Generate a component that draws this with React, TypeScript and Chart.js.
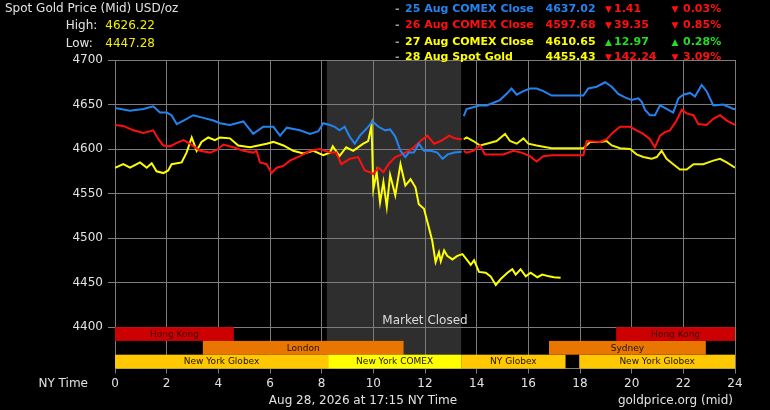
import React, { useEffect, useRef } from 'react';
import { Chart, registerables } from 'chart.js';

Chart.register(...registerables);

// --- data (hours in NY time, USD/oz) ---
const xTicks = [0, 2, 4, 6, 8, 10, 12, 14, 16, 18, 20, 22, 24];
const yTicks = [4400, 4450, 4500, 4550, 4600, 4650, 4700];

// 25 Aug COMEX close line (two pieces, split at the COMEX close)
const blueHoursA = [0, 0.58, 1.1, 1.48, 1.74, 2, 2.19, 2.39, 2.65, 3.03, 3.42, 3.81, 4.06, 4.45, 4.97, 5.35, 5.74, 6.13, 6.39, 6.65, 7.16, 7.55, 7.87, 8.06, 8.32, 8.5, 8.69, 8.89, 9.08, 9.28, 9.48, 9.74, 9.97, 10.2, 10.46, 10.65, 10.85, 11.05, 11.24, 11.37, 11.57, 11.76, 11.96, 12.22, 12.48, 12.68, 12.88, 13.14, 13.42];
const bluePricesA = [4646, 4643, 4645, 4648, 4641, 4641, 4638, 4628, 4632, 4638, 4635, 4632, 4629, 4627, 4631, 4617, 4625, 4625, 4615, 4624, 4621, 4617, 4620, 4629, 4627, 4625, 4621, 4625, 4614, 4606, 4615, 4623, 4631, 4625, 4621, 4622, 4614, 4598, 4591, 4596, 4596, 4606, 4598, 4598, 4596, 4589, 4594, 4596, 4597];
const blueHoursB = [13.5, 13.61, 13.87, 14.13, 14.39, 14.65, 14.9, 15.16, 15.35, 15.55, 15.81, 16.06, 16.32, 16.58, 16.9, 18.13, 18.32, 18.65, 18.97, 19.23, 19.48, 19.74, 20, 20.26, 20.39, 20.52, 20.71, 20.9, 21.1, 21.35, 21.61, 21.81, 22, 22.26, 22.45, 22.71, 22.9, 23.16, 23.55, 23.94, 24];
const bluePricesB = [4637, 4645, 4647, 4649, 4649, 4652, 4655, 4662, 4668, 4661, 4665, 4668, 4668, 4665, 4660, 4660, 4668, 4670, 4675, 4670, 4662, 4658, 4655, 4657, 4653, 4644, 4638, 4638, 4649, 4645, 4641, 4657, 4661, 4663, 4659, 4672, 4665, 4649, 4650, 4645, 4645];

// 26 Aug COMEX close line
const redHoursA = [0, 0.32, 0.71, 1.1, 1.48, 1.68, 1.87, 2.13, 2.39, 2.65, 2.9, 3.29, 3.68, 3.94, 4.19, 4.58, 4.97, 5.35, 5.48, 5.61, 5.87, 6.06, 6.26, 6.52, 6.77, 7.16, 7.55, 7.94, 8.32, 8.56, 8.76, 9.08, 9.41, 9.67, 9.87, 10, 10.2, 10.39, 10.59, 10.85, 11.11, 11.37, 11.57, 11.83, 12.09, 12.35, 12.61, 12.94, 13.14, 13.42];
const redPricesA = [4627, 4626, 4621, 4618, 4621, 4611, 4604, 4603, 4607, 4610, 4606, 4598, 4596, 4599, 4605, 4602, 4598, 4596, 4598, 4585, 4583, 4573, 4579, 4581, 4587, 4592, 4598, 4600, 4596, 4596, 4583, 4589, 4591, 4576, 4574, 4572, 4579, 4574, 4583, 4591, 4594, 4598, 4602, 4609, 4615, 4606, 4609, 4615, 4612, 4611];
const redHoursB = [13.5, 13.61, 13.87, 14.13, 14.32, 14.65, 15.03, 15.42, 15.74, 16.06, 16.32, 16.58, 16.9, 18.13, 18.26, 18.77, 19.03, 19.29, 19.55, 19.94, 20.19, 20.45, 20.71, 20.9, 21.1, 21.29, 21.48, 21.74, 21.94, 22.13, 22.39, 22.58, 22.9, 23.16, 23.42, 23.68, 24];
const redPricesB = [4598, 4596, 4598, 4604, 4594, 4594, 4594, 4598, 4596, 4592, 4586, 4592, 4593, 4593, 4609, 4608, 4611, 4619, 4625, 4625, 4621, 4617, 4611, 4602, 4615, 4619, 4621, 4632, 4644, 4640, 4638, 4628, 4627, 4634, 4638, 4632, 4627];

// 27 Aug COMEX close line (its morning piece is the same as today's spot)
const yellowHours = [13.5, 13.61, 13.87, 14.13, 14.39, 14.77, 15.1, 15.29, 15.55, 15.81, 16, 16.32, 16.9, 18.13, 18.39, 18.77, 19.03, 19.23, 19.55, 19.94, 20.19, 20.45, 20.77, 20.97, 21.16, 21.35, 21.61, 21.87, 22.13, 22.39, 22.77, 23.16, 23.42, 23.68, 24];
const yellowPrices = [4611, 4613, 4609, 4604, 4606, 4609, 4617, 4609, 4606, 4612, 4606, 4604, 4601, 4601, 4608, 4608, 4609, 4604, 4601, 4600, 4594, 4591, 4589, 4591, 4598, 4589, 4583, 4577, 4577, 4583, 4583, 4587, 4589, 4585, 4579];

// 28 Aug spot gold
const spotHours = [0, 0.32, 0.58, 0.97, 1.23, 1.42, 1.61, 1.87, 2.06, 2.19, 2.58, 2.77, 2.97, 3.16, 3.35, 3.61, 3.87, 4.06, 4.45, 4.77, 5.23, 5.87, 6.13, 6.52, 6.9, 7.29, 7.68, 8.06, 8.32, 8.43, 8.69, 8.95, 9.22, 9.61, 9.8, 9.93, 10, 10.13, 10.26, 10.39, 10.52, 10.65, 10.85, 11.05, 11.24, 11.44, 11.63, 11.76, 11.96, 12.15, 12.28, 12.41, 12.54, 12.61, 12.74, 12.86, 13.06, 13.25, 13.45, 13.64, 13.77, 13.9, 14.09, 14.35, 14.54, 14.74, 14.93, 15.19, 15.38, 15.51, 15.7, 15.9, 16.09, 16.35, 16.54, 16.8, 16.99, 17.25];
const spotPrices = [4579, 4583, 4579, 4585, 4579, 4584, 4575, 4573, 4576, 4583, 4585, 4596, 4613, 4598, 4608, 4613, 4610, 4613, 4612, 4604, 4602, 4606, 4608, 4604, 4598, 4595, 4598, 4593, 4596, 4603, 4592, 4602, 4598, 4606, 4609, 4626.22, 4555, 4574, 4540, 4563, 4535, 4571, 4548, 4583, 4559, 4566, 4557, 4538, 4533, 4512, 4497, 4473, 4484, 4474, 4486, 4480, 4476, 4480, 4482, 4475, 4470, 4475, 4462, 4461, 4457, 4447.28, 4454, 4461, 4465, 4459, 4465, 4457, 4461, 4456, 4459, 4457, 4456, 4455.43];

// trading sessions (bottom bands)
const sessionNames = ['Hong Kong', 'London', 'New York Globex', 'New York COMEX', 'NY Globex', 'New York Globex', 'Sydney', 'Hong Kong'];
const sessionStart = [0, 3.4, 0, 8.25, 13.4, 17.97, 16.8, 19.4];
const sessionEnd = [4.6, 11.17, 8.25, 13.4, 17.44, 24, 22.87, 24];
const sessionRow = [0, 1, 2, 2, 2, 2, 1, 0];
const closedStart = 8.2;
const closedEnd = 13.4;

// legend rows
const legendLabels = ['25 Aug COMEX Close', '26 Aug COMEX Close', '27 Aug COMEX Close', '28 Aug Spot Gold'];
const legendValues = ['4637.02', '4597.68', '4610.65', '4455.43'];
const legendChanges = [-1.41, -39.35, 12.97, -142.24];
const legendPcts = [-0.03, -0.85, 0.28, -3.09];

const BLUE = '#2483ee';
const RED = '#ff1010';
const YELLOW = '#ffff00';
const GREEN = '#22dd22';
const legendColors = [BLUE, RED, YELLOW, YELLOW];
const FONT = '"DejaVu Sans", Verdana, sans-serif';

const toPoints = (hours: number[], prices: number[]) => hours.map((h, i) => ({ x: h, y: prices[i] }));

const sessionColor = (name: string) => {
  if (name === 'Hong Kong') return '#cc0000';
  if (name === 'London' || name === 'Sydney') return '#e87600';
  if (name === 'New York COMEX') return '#ffff00';
  return '#ffc800';
};

const sessionsPlugin = {
  id: 'sessions',
  beforeDraw(chart: any) {
    const { ctx, chartArea, scales } = chart;
    const x1 = scales.x.getPixelForValue(closedStart);
    const x2 = scales.x.getPixelForValue(closedEnd);
    ctx.save();
    ctx.fillStyle = '#2e2e2e';
    ctx.fillRect(x1, chartArea.top, x2 - x1, chartArea.bottom - chartArea.top);
    ctx.restore();
  },
  beforeDatasetsDraw(chart: any) {
    const { ctx, chartArea, scales } = chart;
    const top = scales.y.getPixelForValue(4400);
    const rowH = (chartArea.bottom - top) / 3;
    ctx.save();
    sessionNames.forEach((name, i) => {
      const x1 = scales.x.getPixelForValue(sessionStart[i]);
      const x2 = scales.x.getPixelForValue(sessionEnd[i]);
      const y = top + sessionRow[i] * rowH;
      ctx.fillStyle = sessionColor(name);
      ctx.fillRect(x1, y, x2 - x1, rowH);
    });
    ctx.font = `9px ${FONT}`;
    ctx.textAlign = 'center';
    ctx.textBaseline = 'middle';
    sessionNames.forEach((name, i) => {
      const x1 = scales.x.getPixelForValue(sessionStart[i]);
      const x2 = scales.x.getPixelForValue(sessionEnd[i]);
      const y = top + sessionRow[i] * rowH;
      ctx.fillStyle = name === 'Hong Kong' ? '#3a0000' : '#1c1200';
      ctx.fillText(name, (x1 + x2) / 2, y + rowH / 2 + 0.5);
    });
    ctx.font = `12px ${FONT}`;
    ctx.fillStyle = '#dcdcdc';
    ctx.fillText('Market Closed', scales.x.getPixelForValue(12), top - 6.5);
    ctx.restore();
  },
};

const txt = (extra: React.CSSProperties): React.CSSProperties => ({
  position: 'absolute',
  fontFamily: FONT,
  fontSize: 12,
  lineHeight: '14px',
  whiteSpace: 'nowrap',
  color: '#e2e2e2',
  ...extra,
});

const GoldChart: React.FC = () => {
  const chartRef = useRef<HTMLCanvasElement>(null);
  const chartInstance = useRef<Chart<any> | null>(null);

  useEffect(() => {
    document.body.style.margin = '0';
    document.body.style.background = '#000';
    if (!chartRef.current) return;
    if (chartInstance.current) chartInstance.current.destroy();

    const gap = { x: 13.46, y: null };
    const lineStyle = { borderWidth: 2, pointRadius: 0, tension: 0, spanGaps: false, fill: false };

    chartInstance.current = new Chart(chartRef.current, {
      type: 'line',
      data: {
        datasets: [
          { label: '25 Aug COMEX Close', data: [...toPoints(blueHoursA, bluePricesA), gap, ...toPoints(blueHoursB, bluePricesB)], borderColor: BLUE, ...lineStyle },
          { label: '26 Aug COMEX Close', data: [...toPoints(redHoursA, redPricesA), gap, ...toPoints(redHoursB, redPricesB)], borderColor: RED, ...lineStyle },
          { label: '27 Aug COMEX Close', data: toPoints(yellowHours, yellowPrices), borderColor: '#f2f200', ...lineStyle },
          { label: '28 Aug Spot Gold', data: toPoints(spotHours, spotPrices), borderColor: YELLOW, ...lineStyle },
        ],
      },
      options: {
        responsive: false,
        animation: false,
        events: [],
        layout: { padding: { top: 60, right: 35, left: 0, bottom: 0 } },
        plugins: { legend: { display: false }, tooltip: { enabled: false } },
        scales: {
          x: {
            type: 'linear',
            min: 0,
            max: 24,
            afterBuildTicks: (s: any) => { s.ticks = xTicks.map(value => ({ value })); },
            afterFit: (s: any) => { s.height = 41.5; },
            ticks: { color: '#e2e2e2', font: { family: FONT, size: 12 }, padding: 3, maxRotation: 0, autoSkip: false, callback: (v: any) => String(v) },
            grid: { color: '#7c7c7c', tickLength: 5 },
            border: { color: '#7c7c7c' },
          },
          y: {
            type: 'linear',
            min: 4353.5,
            max: 4700,
            afterBuildTicks: (s: any) => { s.ticks = yTicks.map(value => ({ value })); },
            afterFit: (s: any) => { s.width = 115; },
            ticks: { color: '#e2e2e2', font: { family: FONT, size: 12 }, padding: 5, callback: (v: any) => String(v) },
            grid: { color: '#7c7c7c', tickLength: 7 },
            border: { color: '#7c7c7c' },
          },
        },
      },
      plugins: [sessionsPlugin],
    });

    return () => {
      if (chartInstance.current) {
        chartInstance.current.destroy();
        chartInstance.current = null;
      }
    };
  }, []);

  const tri = (v: number) => (v < 0 ? '▼' : '▲');
  const rowTops = [2.3, 18.3, 34.7, 50.3];

  return (
    <div style={{ position: 'relative', width: 770, height: 410, background: '#000', overflow: 'hidden' }}>
      <canvas ref={chartRef} width={770} height={410} style={{ position: 'absolute', left: 0, top: 0 }} />

      <div style={txt({ left: 5, top: 1.3 })}>Spot Gold Price (Mid) USD/oz</div>
      <div style={txt({ left: 65.7, top: 18 })}>High:</div>
      <div style={txt({ left: 105.3, top: 18, color: '#f0f000' })}>4626.22</div>
      <div style={txt({ left: 65.7, top: 36.3 })}>Low:</div>
      <div style={txt({ left: 105.3, top: 36.3, color: '#f0f000' })}>4447.28</div>

      {legendLabels.map((label, i) => {
        const chColor = legendChanges[i] < 0 ? RED : GREEN;
        const bold = { fontSize: 11, fontWeight: 'bold' as const, top: rowTops[i] };
        return (
          <React.Fragment key={label}>
            <div style={txt({ ...bold, left: 395, color: '#9a9a9a' })}>-</div>
            <div style={txt({ ...bold, left: 405, color: legendColors[i] })}>{label}</div>
            <div style={txt({ ...bold, left: 545.5, color: legendColors[i] })}>{legendValues[i]}</div>
            <div style={txt({ ...bold, left: 605, fontSize: 9, color: chColor })}>{tri(legendChanges[i])}</div>
            <div style={txt({ ...bold, left: 614, color: chColor })}>{Math.abs(legendChanges[i]).toFixed(2)}</div>
            <div style={txt({ ...bold, left: 671.5, fontSize: 9, color: chColor })}>{tri(legendPcts[i])}</div>
            <div style={txt({ ...bold, left: 683, color: chColor })}>{Math.abs(legendPcts[i]).toFixed(2)}%</div>
          </React.Fragment>
        );
      })}

      <div style={txt({ right: 682, top: 376 })}>NY Time</div>
      <div style={txt({ left: 363, top: 393, transform: 'translateX(-50%)' })}>Aug 28, 2026 at 17:15 NY Time</div>
      <div style={txt({ right: 37, top: 393 })}>goldprice.org (mid)</div>
    </div>
  );
};

export default function App() {
  return <GoldChart />;
}
